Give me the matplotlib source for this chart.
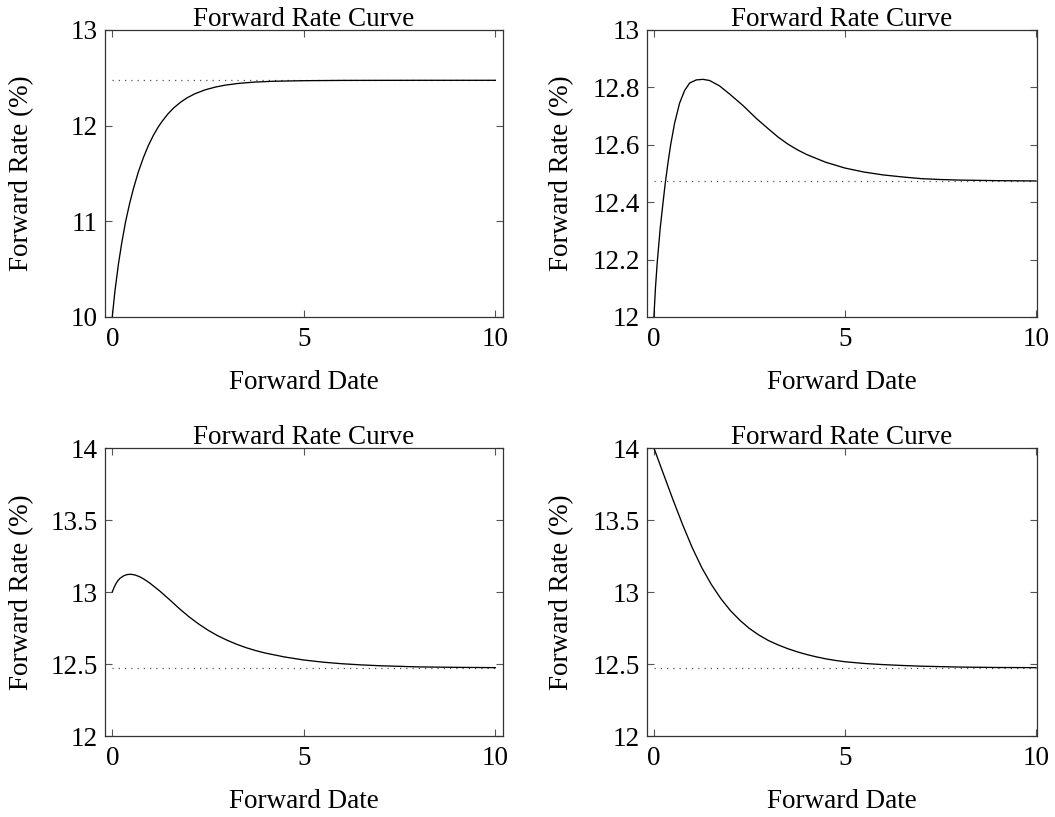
import matplotlib
matplotlib.use('Agg')
import matplotlib.pyplot as plt
from matplotlib.ticker import FormatStrFormatter

plt.rcParams['font.family'] = ['Liberation Serif', 'DejaVu Serif']
plt.rcParams['font.size'] = 19.5

# values
long_rate = 12.474

x_a = [0, 0.07, 0.16, 0.25, 0.35, 0.45, 0.55, 0.68, 0.81, 0.94, 1.07, 1.2, 1.29,
       1.45, 1.6, 1.78, 1.95, 2.15, 2.42, 2.7, 2.94, 3.3, 3.7, 4.2, 5.0, 6.0, 8.0, 10.0]
rate_a = [10.00, 10.27, 10.55, 10.78, 11.00, 11.18, 11.338, 11.515, 11.663, 11.79, 11.896,
          11.986, 12.039, 12.121, 12.184, 12.244, 12.29, 12.332, 12.374, 12.404, 12.423,
          12.442, 12.455, 12.464, 12.47, 12.473, 12.474, 12.474]

x_b = [0, 0.04, 0.087, 0.165, 0.236, 0.296, 0.366, 0.436, 0.541, 0.672, 0.803, 0.934,
       1.108, 1.283, 1.458, 1.72, 1.98, 2.33, 2.68, 3.0, 3.25, 3.5, 3.75, 4.0, 4.5, 5.0,
       5.5, 6.0, 6.5, 7.0, 7.5, 8.0, 9.0, 10.0]
rate_b = [12.00, 12.10, 12.19, 12.31, 12.395, 12.465, 12.535, 12.598, 12.675, 12.745,
          12.789, 12.815, 12.826, 12.828, 12.824, 12.805, 12.777, 12.737, 12.692, 12.655,
          12.627, 12.603, 12.583, 12.566, 12.539, 12.519, 12.505, 12.495, 12.488, 12.482,
          12.479, 12.477, 12.475, 12.474]

x_c = [0, 0.05, 0.1, 0.15, 0.2, 0.3, 0.4, 0.5, 0.6, 0.7, 0.8, 0.9, 1.0, 1.25, 1.5, 1.75,
       2.0, 2.25, 2.5, 2.75, 3.0, 3.25, 3.5, 3.75, 4.0, 4.5, 5.0, 5.5, 6.0, 6.5, 7.0,
       7.5, 8.0, 9.0, 10.0]
rate_c = [13.00, 13.033, 13.06, 13.08, 13.095, 13.113, 13.122, 13.123, 13.118, 13.108,
          13.094, 13.077, 13.058, 13.005, 12.946, 12.885, 12.829, 12.779, 12.735, 12.697,
          12.665, 12.637, 12.613, 12.593, 12.576, 12.549, 12.528, 12.513, 12.502, 12.494,
          12.488, 12.484, 12.48, 12.477, 12.475]

x_d = [0, 0.25, 0.5, 0.75, 1.0, 1.25, 1.5, 1.75, 2.0, 2.25, 2.5, 2.75, 3.0, 3.25, 3.5,
       3.75, 4.0, 4.25, 4.5, 4.75, 5.0, 5.5, 6.0, 6.5, 7.0, 7.5, 8.0, 9.0, 10.0]
rate_d = [14.00, 13.82, 13.641, 13.469, 13.31, 13.171, 13.054, 12.955, 12.872, 12.804,
          12.747, 12.701, 12.663, 12.633, 12.607, 12.585, 12.566, 12.55, 12.536, 12.525,
          12.516, 12.504, 12.496, 12.49, 12.485, 12.482, 12.479, 12.476, 12.475]

x_ticks = [0, 5, 10]
y_ticks_a = [10, 11, 12, 13]
y_ticks_b = [12, 12.2, 12.4, 12.6, 12.8, 13]
y_ticks_cd = [12, 12.5, 13, 13.5, 14]

panels = [
    ([0.0995, 0.612, 0.3773, 0.3513], x_a, rate_a, (10, 13), y_ticks_a, (-0.19, 10.2), -0.178),
    ([0.6133, 0.612, 0.3697, 0.3513], x_b, rate_b, (12, 13), y_ticks_b, (-0.18, 10.03), -0.187),
    ([0.0995, 0.0991, 0.3773, 0.3525], x_c, rate_c, (12, 14), y_ticks_cd, (-0.19, 10.2), -0.178),
    ([0.6133, 0.0991, 0.3697, 0.3525], x_d, rate_d, (12, 14), y_ticks_cd, (-0.18, 10.03), -0.187),
]

fig = plt.figure(figsize=(10.55, 8.17), dpi=100)

for rect, xs, ys, ylim, yticks, xlim, ylab_x in panels:
    ax = fig.add_axes(rect)
    ax.plot([0, 10], [long_rate, long_rate], color='#555555', lw=0.9,
            linestyle=(0, (1, 4)))
    ax.plot(xs, ys, color='black', lw=0.95)
    ax.set_xlim(*xlim)
    ax.set_ylim(*ylim)
    ax.set_xticks(x_ticks)
    ax.set_yticks(yticks)
    ax.yaxis.set_major_formatter(FormatStrFormatter('%g'))
    ax.tick_params(direction='in', length=5, width=0.8, color='#555555',
                   top=True, right=True, labelsize=19.5)
    ax.tick_params(axis='x', pad=7)
    ax.tick_params(axis='y', pad=5)
    for s in ax.spines.values():
        s.set_color('#333333')
        s.set_linewidth(0.9)
    ax.set_title('Forward Rate Curve', fontsize=19.5, pad=3)
    ax.set_xlabel('Forward Date', labelpad=13)
    ax.set_ylabel('Forward Rate (%)')
    ax.yaxis.set_label_coords(ylab_x, 0.5)

fig.savefig('out.png', dpi=100)
